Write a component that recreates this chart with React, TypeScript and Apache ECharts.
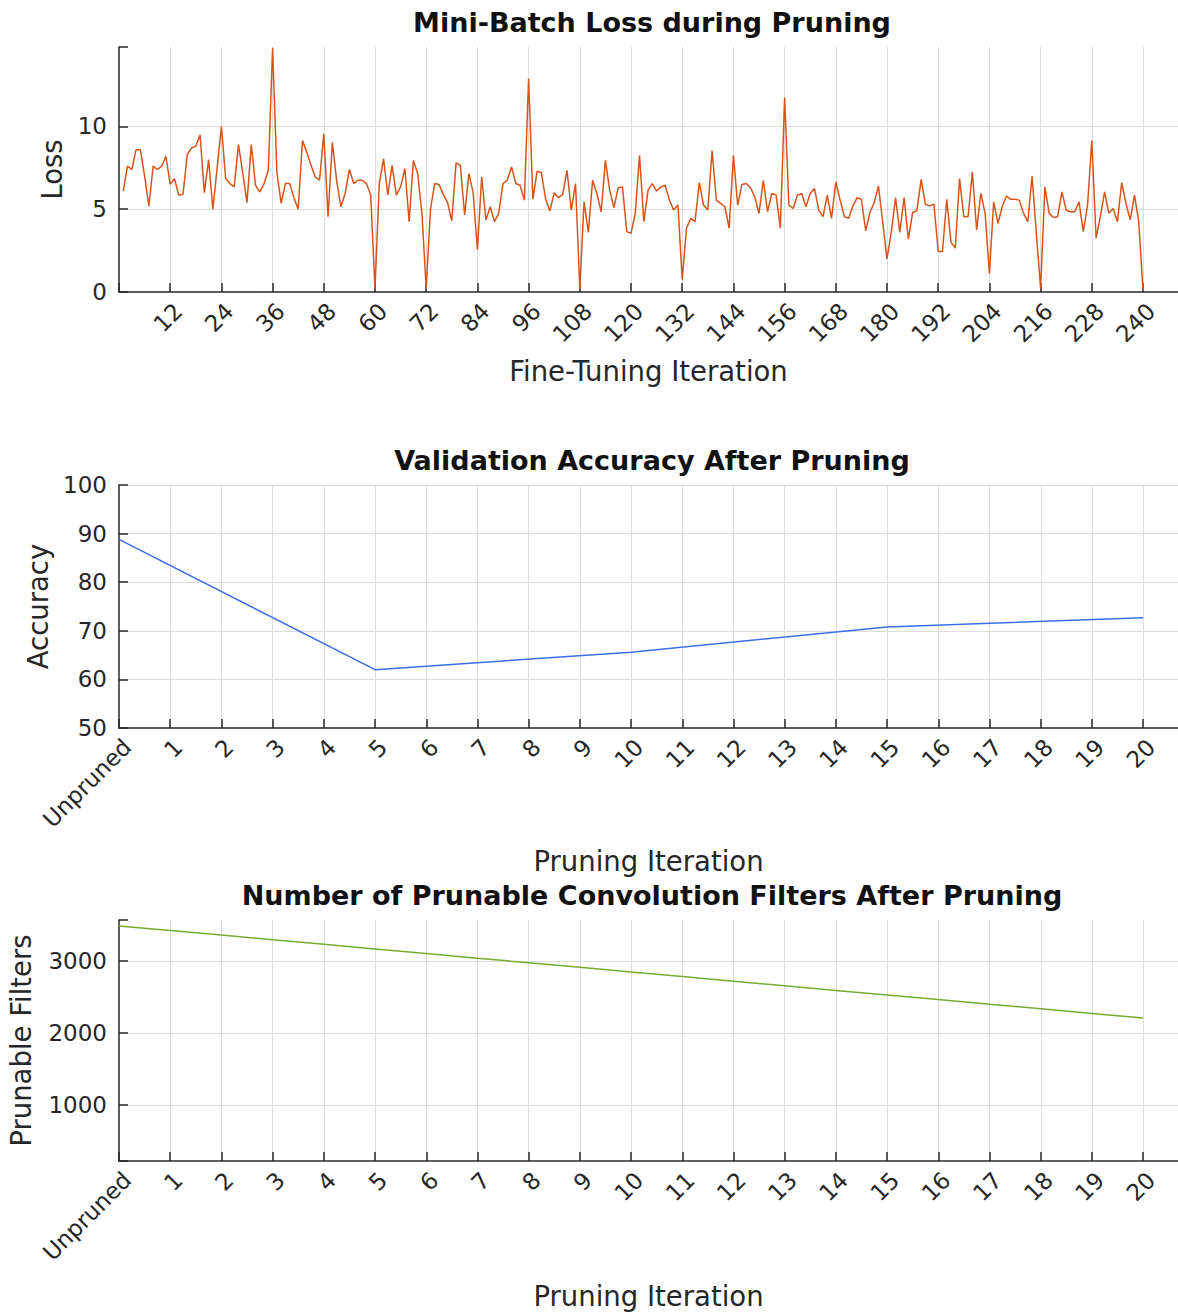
import React, { useEffect, useRef } from "react";
import * as echarts from "echarts";

// ---------- data ----------
const lossValues: number[] = [
  6.1, 7.6, 7.4, 8.6, 8.6, 7.0, 5.2, 7.6, 7.4, 7.6,
  8.2, 6.5, 6.85, 5.85, 5.9, 8.3, 8.7, 8.8, 9.5, 6.0,
  8.0, 5.0, 7.5, 10.0, 6.85, 6.55, 6.35, 8.9, 7.2, 5.4,
  8.9, 6.45, 6.05, 6.55, 7.35, 14.75, 7.25, 5.35, 6.55, 6.55,
  5.7, 5.0, 9.15, 8.45, 7.65, 6.95, 6.75, 9.55, 4.55, 9.05,
  6.75, 5.15, 5.95, 7.4, 6.55, 6.75, 6.75, 6.55, 5.85, 0.2,
  6.55, 8.05, 5.85, 7.65, 5.85, 6.35, 7.45, 4.25, 7.95, 7.15,
  4.75, 0.2, 5.0, 6.55, 6.5, 5.9, 5.4, 4.3, 7.8, 7.65,
  4.65, 7.15, 6.0, 2.55, 6.95, 4.35, 5.15, 4.25, 4.75, 6.55,
  6.75, 7.55, 6.55, 6.45, 5.55, 12.9, 5.6, 7.3, 7.2, 5.6,
  4.9, 6.0, 5.7, 5.9, 7.35, 4.95, 6.55, 0.2, 5.45, 3.6,
  6.75, 5.95, 4.85, 7.95, 6.15, 5.1, 6.3, 6.35, 3.65, 3.55,
  4.75, 8.25, 4.25, 6.15, 6.55, 6.1, 6.35, 6.45, 5.55, 4.95,
  5.25, 0.75, 3.85, 4.45, 4.25, 6.6, 5.25, 4.95, 8.55, 5.55,
  5.35, 5.15, 3.85, 8.25, 5.25, 6.5, 6.55, 6.3, 5.75, 4.75,
  6.75, 4.85, 5.95, 5.85, 3.85, 11.75, 5.25, 5.05, 5.85, 5.95,
  5.15, 5.95, 6.25, 4.95, 4.55, 5.85, 4.45, 6.65, 5.55, 4.55,
  4.45, 5.2, 5.7, 5.6, 3.7, 4.8, 5.4, 6.4, 4.2, 2.0,
  3.6, 5.7, 3.6, 5.7, 3.2, 4.8, 4.9, 6.8, 5.3, 5.2,
  5.3, 2.45, 2.45, 5.6, 3.0, 2.65, 6.85, 4.55, 4.55, 7.25,
  3.75, 5.95, 4.75, 1.1, 5.45, 4.15, 5.15, 5.8, 5.6, 5.6,
  5.55, 4.75, 4.25, 7.0, 3.55, 0.2, 6.35, 4.75, 4.5, 4.55,
  6.05, 4.95, 4.85, 4.85, 5.45, 3.65, 5.25, 9.15, 3.25, 4.55,
  6.05, 4.75, 5.05, 4.25, 6.6, 5.35, 4.35, 5.85, 4.25, 0.1,
];

const pruningLabels: string[] = [
  "Unpruned", "1", "2", "3", "4", "5", "6", "7", "8", "9", "10",
  "11", "12", "13", "14", "15", "16", "17", "18", "19", "20",
];

const accuracyIterations: number[] = [0, 5, 10, 15, 20];
const accuracyValues: number[] = [88.8, 62.0, 65.6, 70.8, 72.7];

const filterValues: number[] = [
  3488, 3424, 3360, 3296, 3232, 3168, 3104, 3040, 2976, 2912, 2848,
  2784, 2720, 2656, 2592, 2528, 2464, 2400, 2336, 2272, 2208,
];

const lossTickStep = 12;

// ---------- styles ----------
const FONT = "DejaVu Sans";
const AXIS_COLOR = "#262626";
const GRID_COLOR = "#dddddd";
const TICK_SIZE = 23;
const LABEL_SIZE = 27.5;
const TITLE_SIZE = 27;

const makeAxis = (showMax: boolean) => ({
  axisLine: { show: true, onZero: false, lineStyle: { color: AXIS_COLOR, width: 1.5 } },
  axisTick: { show: true, inside: true, length: 9, lineStyle: { color: AXIS_COLOR, width: 1.5 } },
  splitLine: { show: true, showMinLine: false, showMaxLine: showMax, lineStyle: { color: GRID_COLOR, width: 1 } },
  nameTextStyle: { fontFamily: FONT, fontSize: LABEL_SIZE, color: AXIS_COLOR },
});

const xLabel = (formatter: (v: number) => string) => ({
  rotate: 45,
  margin: 7,
  verticalAlign: "top",
  fontFamily: FONT,
  fontSize: TICK_SIZE,
  color: AXIS_COLOR,
  showMaxLabel: false,
  formatter,
});

const yLabel = (formatter?: (v: number) => string) => ({
  margin: 12,
  fontFamily: FONT,
  fontSize: TICK_SIZE,
  color: AXIS_COLOR,
  ...(formatter ? { formatter } : {}),
});

export default function App() {
  const ref = useRef<HTMLDivElement>(null);

  useEffect(() => {
    document.body.style.margin = "0";
    if (!ref.current) return;
    const chart = echarts.init(ref.current, undefined, { renderer: "svg" });

    const lossData = lossValues.map((v, i) => [i + 1, v]);
    const accData = accuracyIterations.map((it, k) => [it, accuracyValues[k]]);
    const filterData = filterValues.map((v, i) => [i, v]);

    const catFormatter = (v: number) =>
      Number.isInteger(v) && v >= 0 && v < pruningLabels.length ? pruningLabels[v] : "";

    const titleStyle = { fontFamily: FONT, fontSize: TITLE_SIZE, fontWeight: "bold" as const, color: "#111", lineHeight: 30 };

    const gridBase = { left: 119, right: 0, outerBoundsMode: "none" };

    chart.setOption({
      animation: false,
      backgroundColor: "#ffffff",
      textStyle: { fontFamily: FONT },
      title: [
        { text: "Mini-Batch Loss during Pruning", left: 652, top: 7, textAlign: "center", padding: 0, textStyle: titleStyle },
        { text: "Validation Accuracy After Pruning", left: 652, top: 445, textAlign: "center", padding: 0, textStyle: titleStyle },
        { text: "Number of Prunable Convolution Filters After Pruning", left: 652, top: 880, textAlign: "center", padding: 0, textStyle: titleStyle },
      ],
      grid: [
        { ...gridBase, top: 47, height: 245 },
        { ...gridBase, top: 485, height: 243 },
        { ...gridBase, top: 920, height: 241 },
      ],
      xAxis: [
        {
          ...makeAxis(false),
          gridIndex: 0,
          type: "value",
          min: 0,
          max: 248.2,
          interval: lossTickStep,
          name: "Fine-Tuning Iteration",
          nameLocation: "middle",
          nameGap: 65,
          axisLabel: xLabel((v: number) => (v > 0 && v <= 240 && v % lossTickStep === 0 ? String(v) : "")),
        },
        {
          ...makeAxis(false),
          gridIndex: 1,
          type: "value",
          min: 0,
          max: 20.68,
          interval: 1,
          name: "Pruning Iteration",
          nameLocation: "middle",
          nameGap: 119,
          axisLabel: xLabel(catFormatter),
        },
        {
          ...makeAxis(false),
          gridIndex: 2,
          type: "value",
          min: 0,
          max: 20.68,
          interval: 1,
          name: "Pruning Iteration",
          nameLocation: "middle",
          nameGap: 121,
          axisLabel: xLabel(catFormatter),
        },
      ],
      yAxis: [
        {
          ...makeAxis(false),
          gridIndex: 0,
          type: "value",
          min: 0,
          max: 14.8,
          interval: 5,
          name: "Loss",
          nameLocation: "middle",
          nameGap: 53,
          axisLabel: yLabel((v: number) => (v % 5 === 0 ? String(v) : "")),
        },
        {
          ...makeAxis(true),
          gridIndex: 1,
          type: "value",
          min: 50,
          max: 100,
          interval: 10,
          name: "Accuracy",
          nameLocation: "middle",
          nameGap: 66,
          axisLabel: yLabel(),
        },
        {
          ...makeAxis(false),
          gridIndex: 2,
          type: "value",
          min: 222,
          max: 3570,
          splitNumber: 3,
          name: "Prunable Filters",
          nameLocation: "middle",
          nameGap: 84,
          axisLabel: yLabel((v: number) => (v % 1000 === 0 ? String(v) : "")),
        },
      ],
      series: [
        {
          type: "line",
          xAxisIndex: 0,
          yAxisIndex: 0,
          data: lossData,
          showSymbol: false,
          lineStyle: { color: "#D95319", width: 1.5 },
          itemStyle: { color: "#D95319" },
        },
        {
          type: "line",
          xAxisIndex: 1,
          yAxisIndex: 1,
          data: accData,
          showSymbol: false,
          lineStyle: { color: "#3b6ee6", width: 1.5 },
          itemStyle: { color: "#3b6ee6" },
        },
        {
          type: "line",
          xAxisIndex: 2,
          yAxisIndex: 2,
          data: filterData,
          showSymbol: false,
          lineStyle: { color: "#77AC30", width: 1.5 },
          itemStyle: { color: "#77AC30" },
        },
      ],
    });

    return () => chart.dispose();
  }, []);

  return <div ref={ref} style={{ width: 1178, height: 1313 }} />;
}
